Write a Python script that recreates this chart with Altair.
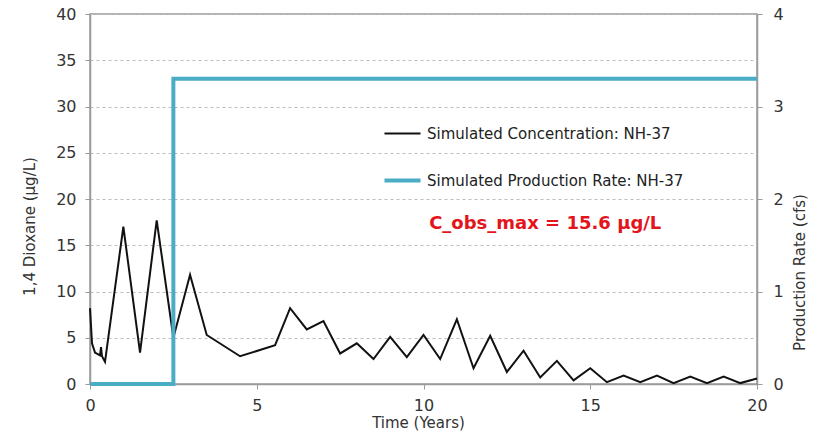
import altair as alt
import pandas as pd

# Simulated concentration (years, ug/L)
conc_t = [0.0, 0.06, 0.15, 0.3, 0.33, 0.36, 0.45, 1.0, 1.5, 2.0, 2.5, 3.0, 3.5, 4.5,
          5.55, 6.0, 6.5, 7.0, 7.5, 8.0, 8.5, 9.0, 9.5, 10.0, 10.5, 11.0, 11.5, 12.0,
          12.5, 13.0, 13.5, 14.0, 14.5, 15.0, 15.5, 16.0, 16.5, 17.0, 17.5, 18.0,
          18.5, 19.0, 19.5, 20.0]
conc_v = [8.2, 4.4, 3.4, 3.1, 4.0, 3.0, 2.4, 17.0, 3.4, 17.7, 5.0, 11.8, 5.3, 3.0,
          4.2, 8.2, 5.9, 6.8, 3.3, 4.4, 2.7, 5.1, 2.9, 5.3, 2.7, 7.0, 1.7, 5.2,
          1.3, 3.6, 0.7, 2.5, 0.4, 1.7, 0.2, 0.9, 0.2, 0.9, 0.1, 0.8,
          0.1, 0.8, 0.1, 0.6]

# Simulated production rate (years, cfs)
prod_t = [0.0, 2.5, 2.5, 20.0]
prod_v = [0.0, 0.0, 3.3, 3.3]

series = ["Simulated Concentration: NH-37", "Simulated Production Rate: NH-37"]
colors = ["#111111", "#4BACC6"]
widths = [2, 4]

ann_x = [13.65]
ann_y = [17.3]
ann_text = ["C_obs_max = 15.6 µg/L"]

conc_df = pd.DataFrame({"t": conc_t, "v": conc_v, "series": series[0],
                        "i": range(len(conc_t))})
prod_df = pd.DataFrame({"t": prod_t, "v": prod_v, "series": series[1],
                        "i": range(len(prod_t))})
ann_df = pd.DataFrame({"t": ann_x, "v": ann_y, "text": ann_text})

FONT = "DejaVu Sans"

xenc = alt.X("t:Q", scale=alt.Scale(domain=[0, 20], nice=False),
             axis=alt.Axis(title="Time (Years)", values=[0, 5, 10, 15, 20],
                           grid=False, titleY=31, titleX=328, labelFlush=False,
                           labelPadding=8))

legend = alt.Legend(title=None, orient="none", legendX=292, legendY=100,
                    symbolType="stroke", symbolSize=1300, labelFontSize=15,
                    labelFont=FONT, labelColor="#222", rowPadding=18,
                    labelOffset=4, labelLimit=0)

color = alt.Color("series:N", scale=alt.Scale(domain=series, range=colors),
                  legend=legend)
swidth = alt.StrokeWidth("series:N", scale=alt.Scale(domain=series, range=widths),
                         legend=legend)

conc_line = alt.Chart(conc_df).mark_line(strokeJoin="miter").encode(
    x=xenc,
    y=alt.Y("v:Q", scale=alt.Scale(domain=[0, 40], nice=False),
            axis=alt.Axis(title="1,4 Dioxane (µg/L)", values=list(range(0, 45, 5)),
                          grid=True, gridDash=[3, 3], gridColor="#bdbdbd",
                          titleY=212, titlePadding=18, labelFlush=False,
                          labelPadding=9)),
    color=color,
    strokeWidth=swidth,
    order="i:Q",
)

prod_line = alt.Chart(prod_df).mark_line().encode(
    x=xenc,
    y=alt.Y("v:Q", scale=alt.Scale(domain=[0, 4], nice=False),
            axis=alt.Axis(title="Production Rate (cfs)", orient="right",
                          values=[0, 1, 2, 3, 4], grid=False, titleAngle=270,
                          titleY=258, titlePadding=24, labelFlush=False,
                          labelPadding=11)),
    color=color,
    strokeWidth=swidth,
    order="i:Q",
)

ann = alt.Chart(ann_df).mark_text(font=FONT, fontSize=18, fontWeight="bold",
                                  color="#E3141C").encode(
    x="t:Q", y=alt.Y("v:Q", scale=alt.Scale(domain=[0, 40], nice=False)),
    text="text:N")

left = alt.layer(conc_line, ann)

chart = alt.layer(left, prod_line).resolve_scale(y="independent").properties(
    width=667, height=370,
    background="white",
    autosize=alt.AutoSizeParams(type="none"),
    padding={"left": 90, "top": 14, "right": 60, "bottom": 60},
).configure_view(stroke="#9a9a9a", strokeWidth=1.5).configure_axis(
    labelFont=FONT, titleFont=FONT, labelFontSize=16, titleFontSize=15,
    labelColor="#333", titleColor="#333", titleFontWeight="normal",
    domainColor="#9a9a9a", tickColor="#9a9a9a", tickSize=5, domainWidth=1.5,
)

chart.save("out.html", embed_options={"renderer": "svg", "actions": False})
